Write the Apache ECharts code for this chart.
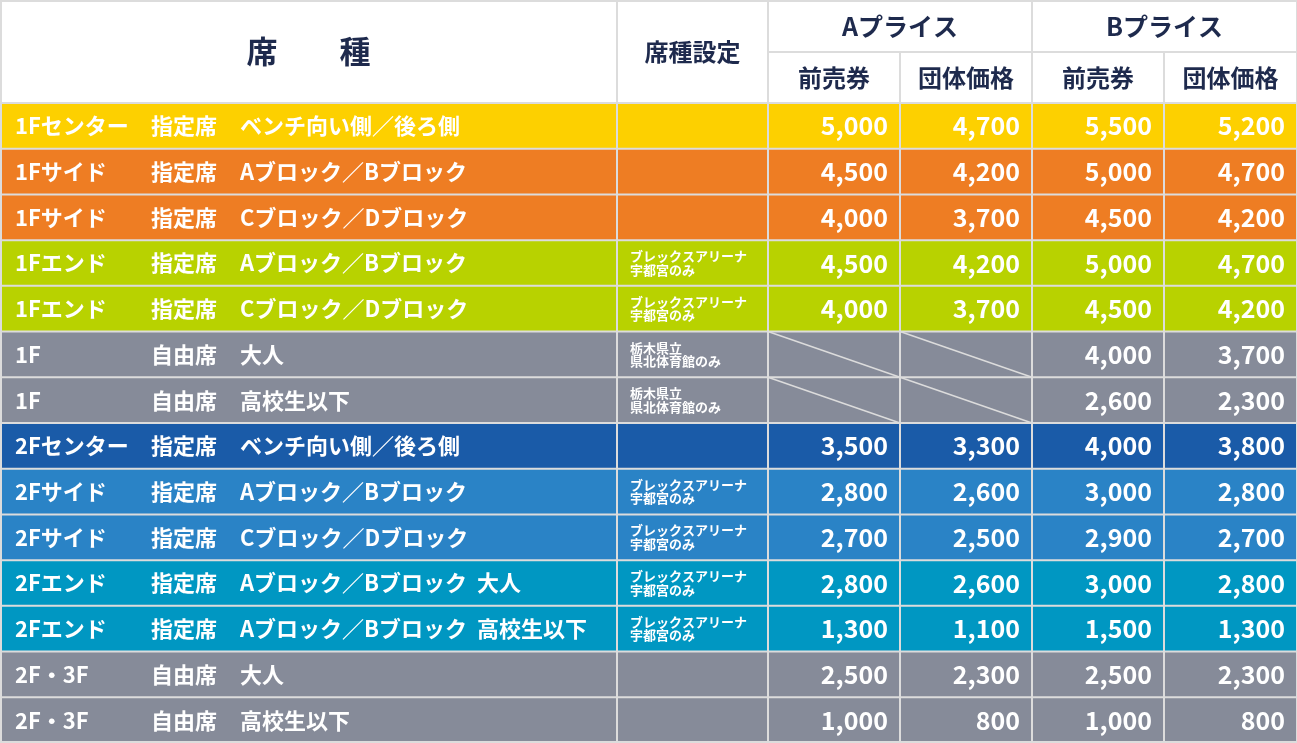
<!DOCTYPE html>
<html><head><meta charset="utf-8">
<script src="https://cdn.jsdelivr.net/npm/echarts@6/dist/echarts.min.js"></script>
<style>html,body{margin:0;padding:0;background:#fff}#c{width:1297px;height:743px}</style>
</head><body><div id="c"></div>
<script>
const seatA = ['1Fセンター','1Fサイド','1Fサイド','1Fエンド','1Fエンド','1F','1F','2Fセンター','2Fサイド','2Fサイド','2Fエンド','2Fエンド','2F・3F','2F・3F'];
const seatB = ['指定席','指定席','指定席','指定席','指定席','自由席','自由席','指定席','指定席','指定席','指定席','指定席','自由席','自由席'];
const seatC = ['ベンチ向い側／後ろ側','Aブロック／Bブロック','Cブロック／Dブロック','Aブロック／Bブロック','Cブロック／Dブロック','大人','高校生以下','ベンチ向い側／後ろ側','Aブロック／Bブロック','Cブロック／Dブロック','Aブロック／Bブロック  大人','Aブロック／Bブロック  高校生以下','大人','高校生以下'];
const notes = ['','','','ブレックスアリーナ\n宇都宮のみ','ブレックスアリーナ\n宇都宮のみ','栃木県立\n県北体育館のみ','栃木県立\n県北体育館のみ','','ブレックスアリーナ\n宇都宮のみ','ブレックスアリーナ\n宇都宮のみ','ブレックスアリーナ\n宇都宮のみ','ブレックスアリーナ\n宇都宮のみ','',''];
const aPresale = [5000,4500,4000,4500,4000,null,null,3500,2800,2700,2800,1300,2500,1000];
const aGroup   = [4700,4200,3700,4200,3700,null,null,3300,2600,2500,2600,1100,2300,800];
const bPresale = [5500,5000,4500,5000,4500,4000,2600,4000,3000,2900,3000,1500,2500,1000];
const bGroup   = [5200,4700,4200,4700,4200,3700,2300,3800,2800,2700,2800,1300,2300,800];
const rowColors = ['#FDD000','#EE7D23','#EE7D23','#B8D200','#B8D200','#868B99','#868B99','#1A5BA8','#2A83C6','#2A83C6','#0097C2','#0097C2','#868B99','#868B99'];
const headMain = ['席　　種','席種設定','Aプライス','Bプライス'];
const headSub = ['前売券','団体価格','前売券','団体価格'];

const colX = [0,617,768,900,1032,1164,1297];
const headTop = 0, headMid = 52, headBot = 103, rowH = (743-103)/14;
const FONT = '"Noto Sans CJK JP", sans-serif';
const fmt = v => v.toLocaleString('en-US');
const navy = '#1E2A4D', line = '#DCDCDC';

function txt(x,y,s,size,color,align,weight){
  return {type:'text',style:{x,y,text:s,fontSize:size,fontFamily:FONT,fontWeight:weight||'bold',fill:color,align:align||'left',verticalAlign:'middle',lineHeight:size*1.05}};
}
function rect(x0,y0,x1,y1,fill,stroke){return {type:'rect',shape:{x:x0,y:y0,width:x1-x0,height:y1-y0},style:{fill:fill,stroke:stroke||null,lineWidth:2}};}
function ln(x0,y0,x1,y1,w){return {type:'line',shape:{x1:x0,y1:y0,x2:x1,y2:y1},style:{stroke:line,lineWidth:w||2}};}

const rowData = seatA.map((s,i)=>[i]);
const chart = echarts.init(document.getElementById('c'),null,{renderer:'canvas'});
chart.setOption({
  animation:false,
  grid:{left:0,right:0,top:0,bottom:0},
  xAxis:{type:'value',min:0,max:1297,show:false},
  yAxis:{type:'value',min:0,max:743,inverse:true,show:false},
  series:[{
    type:'custom',data:[[0]],
    renderItem:(p,api)=>{
      const c = v=>api.coord([v,0])[0], r = v=>api.coord([0,v])[1];
      const ch=[rect(c(0),r(0),c(1297),r(headBot),'#fff')];
      ch.push(txt((c(0)+c(617))/2,r(headBot/2),headMain[0],31,navy,'center'));
      ch.push(txt((c(617)+c(768))/2,r(headBot/2),headMain[1],24,navy,'center'));
      ch.push(txt((c(768)+c(1032))/2,r(headMid/2),headMain[2],25,navy,'center'));
      ch.push(txt((c(1032)+c(1297))/2,r(headMid/2),headMain[3],25,navy,'center'));
      headSub.forEach((h,k)=>ch.push(txt((c(colX[k+2])+c(colX[k+3]))/2,r((headMid+headBot)/2),h,24,navy,'center')));
      [617,768,1032,1297].forEach(x=>ch.push(ln(c(x),r(0),c(x),r(headBot))));
      [900,1164].forEach(x=>ch.push(ln(c(x),r(headMid),c(x),r(headBot))));
      ch.push(ln(c(768),r(headMid),c(1297),r(headMid)));
      ch.push(ln(c(0),r(1),c(1297),r(1)));ch.push(ln(c(1),r(0),c(1),r(headBot)));
      return {type:'group',children:ch};
    }
  },{
    type:'custom',data:rowData,
    renderItem:(p,api)=>{
      const i=api.value(0);
      const c = v=>api.coord([v,0])[0], r = v=>api.coord([0,v])[1];
      const y0=headBot+rowH*i, y1=y0+rowH, ym=r((y0+y1)/2);
      const ch=[rect(c(0),r(y0),c(1297),r(y1),rowColors[i])];
      ch.push(txt(c(15),ym,seatA[i],22,'#fff'));
      ch.push(txt(c(151),ym,seatB[i],22,'#fff'));
      ch.push(txt(c(240),ym,seatC[i],22,'#fff'));
      if(notes[i]) ch.push(txt(c(630),ym,notes[i],13,'#fff'));
      const vals=[aPresale[i],aGroup[i],bPresale[i],bGroup[i]];
      vals.forEach((v,k)=>{
        if(v==null) ch.push(ln(c(colX[k+2]),r(y0),c(colX[k+3]),r(y1),1.5));
        else ch.push(txt(c(colX[k+3]-12),ym,fmt(v),25,'#fff','right','600'));
      });
      colX.slice(1).forEach(x=>ch.push(ln(c(x),r(y0),c(x),r(y1))));
      ch.push(ln(c(1),r(y0),c(1),r(y1)));
      ch.push(ln(c(0),r(y0),c(1297),r(y0)));
      if(i===13) ch.push(ln(c(0),r(y1)-1,c(1297),r(y1)-1));
      return {type:'group',children:ch};
    }
  }]
});
</script></body></html>
